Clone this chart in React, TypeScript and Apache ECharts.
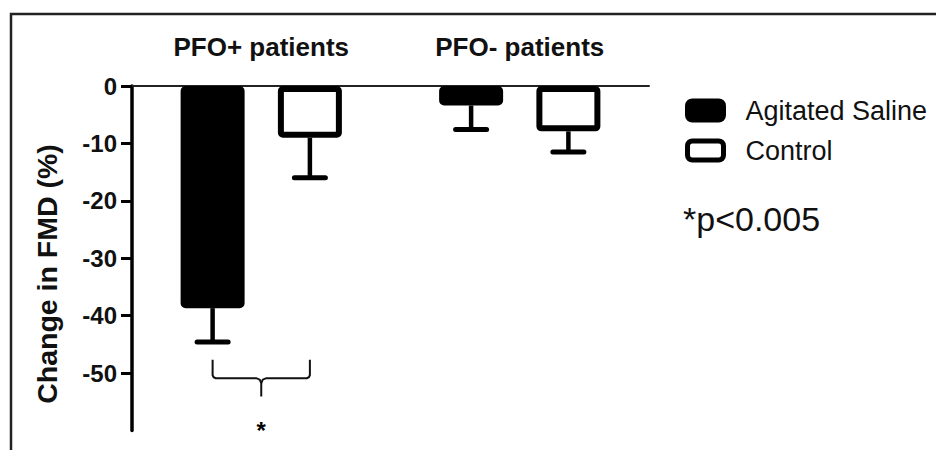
import React, { useEffect, useRef } from "react";
import * as echarts from "echarts";

const categories = ["PFO+ patients", "PFO- patients"];
const seriesNames = ["Agitated Saline", "Control"];
const salineMeans = [-38.7, -3.4];
const salineErrors = [5.9, 4.2];
const controlMeans = [-9.0, -7.9];
const controlErrors = [7.0, 3.6];
const yTicks = [0, -10, -20, -30, -40, -50];
const yMin = -60;
const yMax = 0;
const yTitle = "Change in FMD (%)";
const significanceNote = "*p<0.005";
const significanceMark = "*";
// bracket compares the two bars of category 0
const bracketPairs = [[0]];

const FONT = "'Liberation Sans', Arial, Helvetica, sans-serif";
const BAR_W = 64;
const BAR_GAP = 0.52;
const OFFSET = (BAR_W * (1 + BAR_GAP)) / 2;

function errorRenderer(sign: number) {
  return (params: any, api: any) => {
    const cat = api.value(0);
    const mean = api.value(1);
    const err = api.value(2);
    const p0 = api.coord([cat, mean]);
    const p1 = api.coord([cat, mean - err]);
    const x = p0[0] + sign * OFFSET;
    const capHalf = 15.5;
    return {
      type: "group",
      children: [
        {
          type: "line",
          shape: { x1: x, y1: p0[1], x2: x, y2: p1[1] },
          style: { stroke: "#000", lineWidth: 4.5 },
        },
        {
          type: "line",
          shape: { x1: x - capHalf, y1: p1[1], x2: x + capHalf, y2: p1[1] },
          style: { stroke: "#000", lineWidth: 5, lineCap: "round" },
        },
      ],
    };
  };
}

function bracketRenderer(params: any, api: any) {
  const cat = api.value(0);
  const c = api.coord([cat, -47.7]);
  const yTop = c[1];
  const yLev = api.coord([cat, -50.9])[1];
  const yTip = api.coord([cat, -54.1])[1];
  const yStar = api.coord([cat, -60.0])[1];
  const xl = c[0] - OFFSET;
  const xr = c[0] + OFFSET;
  const xm = c[0];
  const st = { stroke: "#111", lineWidth: 2, fill: "none" };
  return {
    type: "group",
    children: [
      {
        type: "polyline",
        shape: {
          points: [
            [xl, yTop],
            [xl, yLev - 3],
            [xl + 1, yLev - 1],
            [xl + 3, yLev],
            [xm - 5, yLev],
            [xm - 1.5, yLev + 1.5],
            [xm, yLev + 5],
            [xm, yTip],
          ],
        },
        style: st,
      },
      {
        type: "polyline",
        shape: {
          points: [
            [xm, yLev + 5],
            [xm + 1.5, yLev + 1.5],
            [xm + 5, yLev],
            [xr - 3, yLev],
            [xr - 1, yLev - 1],
            [xr, yLev - 3],
            [xr, yTop],
          ],
        },
        style: st,
      },
      {
        type: "text",
        x: xm,
        y: yStar,
        style: {
          text: significanceMark,
          fontFamily: FONT,
          fontWeight: "bold",
          fontSize: 24,
          fill: "#000",
          align: "center",
          verticalAlign: "middle",
        },
      },
    ],
  };
}

export default function App() {
  const ref = useRef<HTMLDivElement>(null);
  useEffect(() => {
    if (!ref.current) return;
    const chart = echarts.init(ref.current, null, { renderer: "svg" });
    const option: any = {
      animation: false,
      backgroundColor: "#fff",
      grid: { left: 132, right: 287, top: 86, bottom: 19.6, outerBoundsMode: "none" },
      legend: {
        orient: "vertical",
        left: 685,
        top: 97,
        padding: 0,
        itemWidth: 36,
        itemHeight: 19,
        itemGap: 13,
        icon: "roundRect",
        data: [
          { name: seriesNames[0], itemStyle: { color: "#000", borderColor: "#000", borderWidth: 5 } },
          { name: seriesNames[1], itemStyle: { color: "#fff", borderColor: "#000", borderWidth: 5 } },
        ],
        textStyle: {
          fontFamily: FONT,
          fontSize: 27,
          color: "#111",
          padding: [0, 0, 0, 17],
        },
      },
      xAxis: {
        type: "category",
        position: "top",
        data: categories,
        axisLine: { show: true, lineStyle: { color: "#222", width: 2 } },
        axisTick: { show: false },
        axisLabel: {
          fontFamily: FONT,
          fontWeight: "bold",
          fontSize: 26,
          color: "#111",
          margin: 26,
        },
        splitLine: { show: false },
      },
      yAxis: {
        type: "value",
        min: yMin,
        max: yMax,
        interval: 10,
        axisLine: { show: true, lineStyle: { color: "#000", width: 3.5 } },
        axisTick: {
          show: true,
          length: 11,
          lineStyle: { color: "#000", width: 3 },
          customValues: yTicks,
        },
        axisLabel: {
          fontFamily: FONT,
          fontWeight: "bold",
          fontSize: 24,
          color: "#111",
          margin: 15,
          customValues: yTicks,
        },
        splitLine: { show: false },
      },
      series: [
        {
          name: seriesNames[0],
          type: "bar",
          data: salineMeans,
          barWidth: BAR_W,
          barGap: `${BAR_GAP * 100}%`,
          itemStyle: { color: "#000", borderColor: "#000", borderWidth: 6, borderRadius: 2 },
        },
        {
          name: seriesNames[1],
          type: "bar",
          data: controlMeans,
          barWidth: BAR_W,
          barGap: `${BAR_GAP * 100}%`,
          itemStyle: { color: "#fff", borderColor: "#000", borderWidth: 6, borderRadius: 2 },
        },
        {
          type: "custom",
          data: salineMeans.map((m, i) => [i, m, salineErrors[i]]),
          renderItem: errorRenderer(-1),
          z: 5,
          silent: true,
        },
        {
          type: "custom",
          data: controlMeans.map((m, i) => [i, m, controlErrors[i]]),
          renderItem: errorRenderer(1),
          z: 5,
          silent: true,
        },
        {
          type: "custom",
          data: bracketPairs.map((p) => [p[0], -50]),
          renderItem: bracketRenderer,
          clip: false,
          z: 5,
          silent: true,
        },
      ],
      graphic: [
        {
          type: "rect",
          shape: { x: 11, y: 14, width: 1000, height: 1000 },
          style: { fill: "none", stroke: "#222", lineWidth: 2.5 },
          z: -1,
          silent: true,
        },
        {
          type: "text",
          x: 47,
          y: 274,
          rotation: Math.PI / 2,
          style: {
            text: yTitle,
            fontFamily: FONT,
            fontWeight: "bold",
            fontSize: 28.5,
            fill: "#111",
            align: "center",
            verticalAlign: "middle",
          },
        },
        {
          type: "text",
          x: 683,
          y: 219,
          style: {
            text: significanceNote,
            fontFamily: FONT,
            fontSize: 34,
            fill: "#111",
            align: "left",
            verticalAlign: "middle",
          },
        },
      ],
    };
    chart.setOption(option);
    return () => chart.dispose();
  }, []);
  return (
    <div
      ref={ref}
      style={{ position: "absolute", left: 0, top: 0, width: 936, height: 450 }}
    />
  );
}
